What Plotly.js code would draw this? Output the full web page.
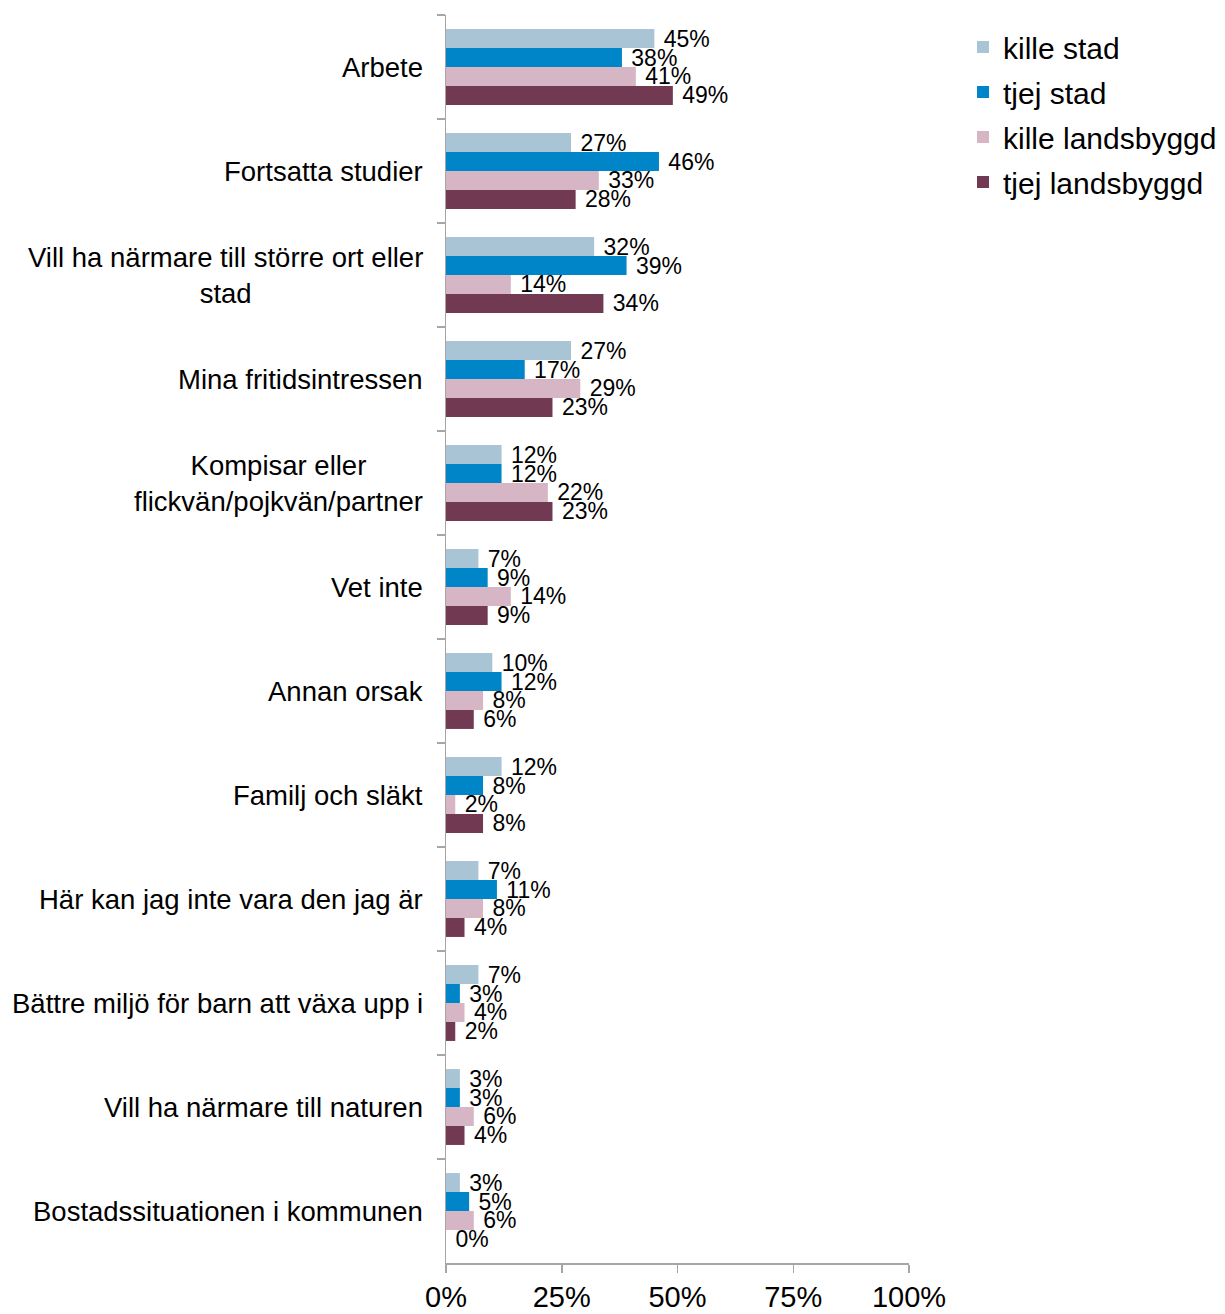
<!DOCTYPE html>
<html>
<head>
<meta charset="utf-8">
<script src="https://cdn.plot.ly/plotly-3.0.1.min.js"></script>
<style>html,body{margin:0;padding:0;background:#fff;}</style>
</head>
<body>
<div id="chart" style="width:1225px;height:1314px;"></div>
<script>
const categories = [
  "Arbete",
  "Fortsatta studier",
  "Vill ha närmare till större ort eller<br>stad",
  "Mina fritidsintressen",
  "Kompisar eller<br>flickvän/pojkvän/partner",
  "Vet inte",
  "Annan orsak",
  "Familj och släkt",
  "Här kan jag inte vara den jag är",
  "Bättre miljö för barn att växa upp i",
  "Vill ha närmare till naturen",
  "Bostadssituationen i kommunen"
];
const seriesNames = ["kille stad", "tjej stad", "kille landsbyggd", "tjej landsbyggd"];
const killeStad = [45, 27, 32, 27, 12, 7, 10, 12, 7, 7, 3, 3];
const tjejStad = [38, 46, 39, 17, 12, 9, 12, 8, 11, 3, 3, 5];
const killeLandsbyggd = [41, 33, 14, 29, 22, 14, 8, 2, 8, 4, 6, 6];
const tjejLandsbyggd = [49, 28, 34, 23, 23, 9, 6, 8, 4, 2, 4, 0];
const xTickVals = [0, 25, 50, 75, 100];
const xTickText = ["0%", "25%", "50%", "75%", "100%"];
const colors = ["#a9c4d4", "#0086c8", "#d6b5c4", "#723a52"];

const allSeries = [killeStad, tjejStad, killeLandsbyggd, tjejLandsbyggd];
const FONT = "Liberation Sans, Arial, Helvetica, sans-serif";

const traces = allSeries.map((vals, i) => ({
  type: "bar",
  orientation: "h",
  name: seriesNames[i],
  y: categories,
  x: vals,
  marker: {color: colors[i]},
  text: vals.map(v => "\u00a0" + v + "%"),
  textposition: "outside",
  constraintext: "none",
  cliponaxis: false,
  textfont: {family: FONT, size: 23, color: "#000"},
  legendgroup: "g" + i,
  hoverinfo: "x+name"
}));

const annotations = categories.map(c => ({
  xref: "paper", yref: "y",
  x: 0, y: c,
  xanchor: "right", yanchor: "middle",
  xshift: -21,
  align: "center",
  text: c,
  showarrow: false,
  font: {family: FONT, size: 27.5, color: "#000"}
}));

const layout = {
  width: 1225,
  height: 1314,
  margin: {l: 446, r: 316, t: 15, b: 51},
  paper_bgcolor: "#fff",
  plot_bgcolor: "#fff",
  barmode: "group",
  bargap: 0.27,
  bargroupgap: 0,
  font: {family: FONT, color: "#000"},
  xaxis: {
    range: [0, 100],
    tickvals: xTickVals,
    ticktext: xTickText,
    showgrid: false,
    zeroline: false,
    showline: true,
    linecolor: "#a6a6a6",
    linewidth: 1.5,
    ticks: "outside",
    ticklen: 8,
    tickcolor: "#a6a6a6",
    tickwidth: 1.5,
    ticklabelstandoff: 0,
    tickfont: {family: FONT, size: 29, color: "#000"},
    fixedrange: true
  },
  yaxis: {
    type: "category",
    autorange: "reversed",
    showticklabels: false,
    showgrid: false,
    zeroline: false,
    showline: true,
    linecolor: "#a6a6a6",
    linewidth: 1.5,
    ticks: "outside",
    tickson: "boundaries",
    ticklen: 8,
    tickcolor: "#a6a6a6",
    tickwidth: 1.5,
    fixedrange: true
  },
  showlegend: true,
  legend: {
    xref: "container", yref: "container",
    x: 963 / 1225, y: 1 - 21 / 1314,
    xanchor: "left", yanchor: "top",
    traceorder: "grouped",
    tracegroupgap: 3,
    font: {family: FONT, size: 30, color: "#000"},
    bgcolor: "rgba(0,0,0,0)"
  },
  annotations: annotations
};

Plotly.newPlot("chart", traces, layout, {displayModeBar: false, staticPlot: true});
</script>
</body>
</html>
